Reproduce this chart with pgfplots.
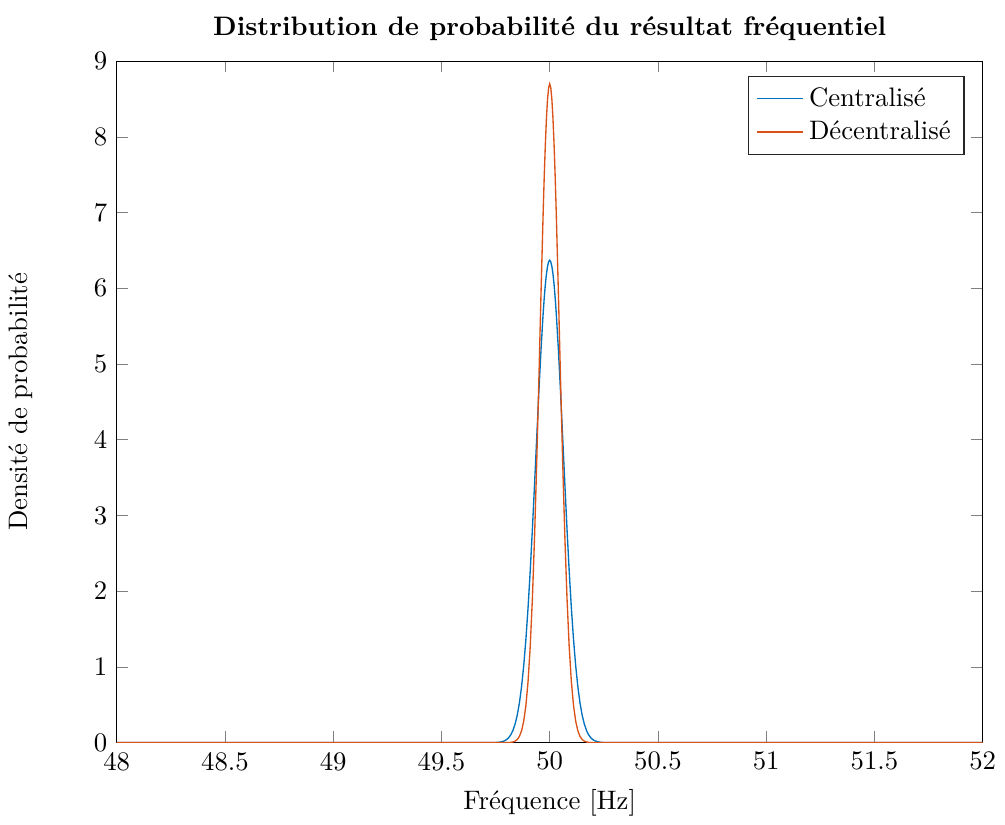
\documentclass[border=0pt]{standalone}
\usepackage{pgfplots}
\pgfplotsset{compat=1.18}
\definecolor{mblue}{rgb}{0,0.447,0.741}
\definecolor{morange}{rgb}{0.85,0.325,0.098}
\begin{document}
\begin{tikzpicture}
\begin{axis}[
  scale only axis,
  width=324pt, height=255pt,
  xmin=48, xmax=52, ymin=0, ymax=9,
  xtick={48,48.5,...,52},
  ytick={0,1,...,9},
  xticklabels={48,48.5,49,49.5,50,50.5,51,51.5,52},
  tick style={color=black!50},
  axis line style={black},
  xlabel={Fréquence [Hz]},
  ylabel={Densité de probabilité},
  ylabel style={yshift=16pt},
  title={\textbf{Distribution de probabilité du résultat fréquentiel}},
  title style={yshift=-2pt},
  legend style={at={(0.979,0.978)}, anchor=north east, legend cell align=left, draw=black!85},
]
\addplot[mblue, line width=0.5pt] coordinates {
(48,0) (49.70,0.00007) (49.72,0.00029) (49.74,0.00115) (49.75,0.00221) (49.76,0.00412) (49.77,0.00751) (49.78,0.01332) (49.79,0.0230) (49.80,0.0389) (49.81,0.0639) (49.82,0.1024) (49.83,0.1601) (49.84,0.2439) (49.85,0.3620) (49.86,0.5237) (49.87,0.7388) (49.88,1.016) (49.89,1.362) (49.90,1.780) (49.91,2.268) (49.92,2.817) (49.93,3.411) (49.94,4.026) (49.95,4.632) (49.96,5.195) (49.97,5.680) (49.975,5.882) (49.98,6.053) (49.985,6.190) (49.99,6.289) (49.995,6.350) (50.00,6.370)
(50.005,6.350) (50.01,6.289) (50.015,6.190) (50.02,6.053) (50.025,5.882) (50.03,5.680) (50.04,5.195) (50.05,4.632) (50.06,4.026) (50.07,3.411) (50.08,2.817) (50.09,2.268) (50.10,1.780) (50.11,1.362) (50.12,1.016) (50.13,0.7388) (50.14,0.5237) (50.15,0.3620) (50.16,0.2439) (50.17,0.1601) (50.18,0.1024) (50.19,0.0639) (50.20,0.0389) (50.21,0.0230) (50.22,0.01332) (50.23,0.00751) (50.24,0.00412) (50.25,0.00221) (50.26,0.00115) (50.28,0.00029) (50.30,0.00007) (52,0)
};
\addlegendentry{Centralisé}
\addplot[morange, line width=0.5pt] coordinates {
(48,0) (49.78,0.0001) (49.80,0.0006) (49.81,0.0016) (49.82,0.0039) (49.83,0.0090) (49.84,0.0198) (49.85,0.0413) (49.86,0.0824) (49.87,0.1565) (49.88,0.2837) (49.89,0.4902) (49.90,0.8072) (49.91,1.268) (49.92,1.900) (49.93,2.714) (49.94,3.697) (49.95,4.802) (49.96,5.948) (49.97,7.024) (49.975,7.499) (49.98,7.911) (49.985,8.247) (49.99,8.496) (49.995,8.648) (50.00,8.700)
(50.005,8.648) (50.01,8.496) (50.015,8.247) (50.02,7.911) (50.025,7.499) (50.03,7.024) (50.04,5.948) (50.05,4.802) (50.06,3.697) (50.07,2.714) (50.08,1.900) (50.09,1.268) (50.10,0.8072) (50.11,0.4902) (50.12,0.2837) (50.13,0.1565) (50.14,0.0824) (50.15,0.0413) (50.16,0.0198) (50.17,0.0090) (50.18,0.0039) (50.19,0.0016) (50.20,0.0006) (50.22,0.0001) (52,0)
};
\addlegendentry{Décentralisé}
\end{axis}
\path (current bounding box.north) ++(0,3pt);
\end{tikzpicture}
\end{document}
